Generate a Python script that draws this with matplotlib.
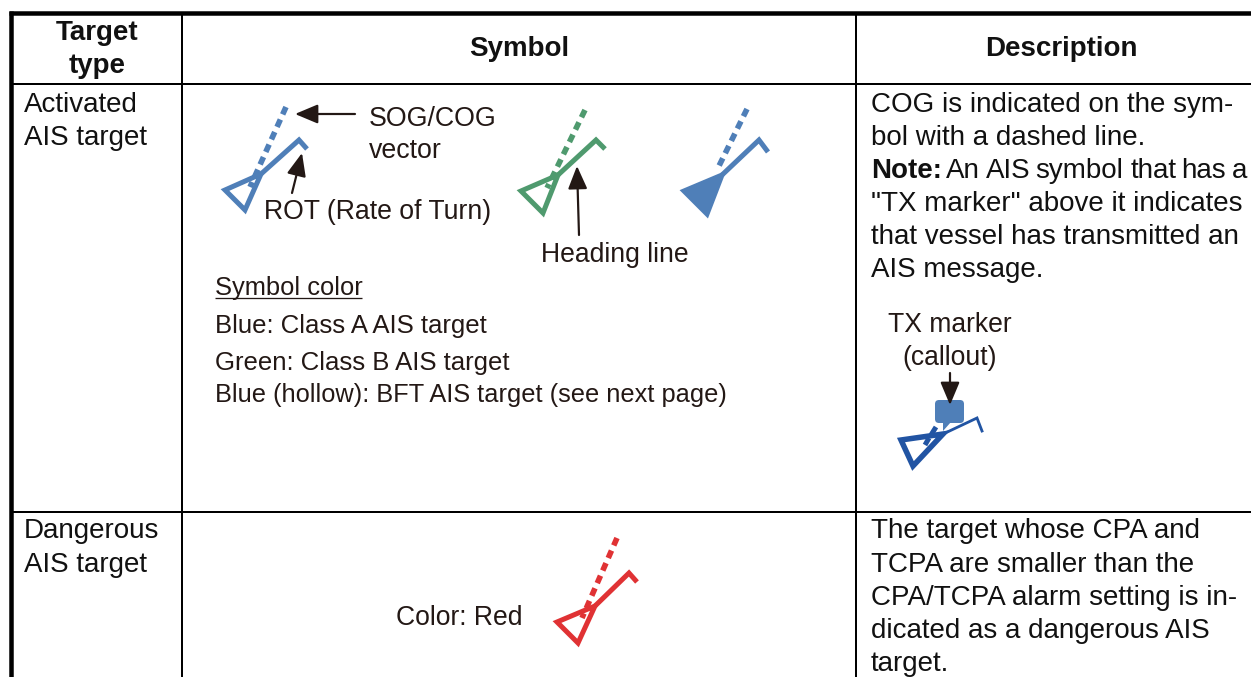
import matplotlib
matplotlib.use("Agg")
import matplotlib.pyplot as plt
from matplotlib.patches import Polygon, FancyBboxPatch

plt.rcParams['font.family'] = ['Liberation Sans', 'DejaVu Sans']

W, H = 1251, 677
BLUE, GREEN, RED, NAVY = '#4f7fb8', '#4f9a6e', '#e03234', '#2154a3'
DARK = '#231815'
INK = '#111111'
PX = 0.72
B = 27.8

# x, baseline y, text, font px, align, weight, colour
TEXTS = [
    (97, 40, 'Target', 27.8, 'center', 'bold', INK), (97, 73, 'type', 27.8, 'center', 'bold', INK),
    (519, 56, 'Symbol', 27.8, 'center', 'bold', INK), (1061, 56, 'Description', 27.8, 'center', 'bold', INK),
    (24, 112, 'Activated', B, 'left', 'normal', INK), (24, 145, 'AIS target', B, 'left', 'normal', INK),
    (24, 538, 'Dangerous', B, 'left', 'normal', INK), (24, 572, 'AIS target', B, 'left', 'normal', INK),
    (369, 126, 'SOG/COG', 26.7, 'left', 'normal', DARK), (369, 158, 'vector', 26.7, 'left', 'normal', DARK),
    (264, 219, 'ROT (Rate of Turn)', 26.6, 'left', 'normal', DARK),
    (541, 262, 'Heading line', 26.5, 'left', 'normal', DARK),
    (215, 295, 'Symbol color', 25.5, 'left', 'normal', DARK),
    (215, 333, 'Blue: Class A AIS target', 25.7, 'left', 'normal', DARK),
    (215, 370, 'Green: Class B AIS target', 25.7, 'left', 'normal', DARK),
    (215, 402, 'Blue (hollow): BFT AIS target (see next page)', 25.4, 'left', 'normal', DARK),
    (871, 112, 'COG is indicated on the sym-', B, 'left', 'normal', INK),
    (871, 145, 'bol with a dashed line.', B, 'left', 'normal', INK),
    (871, 178, 'Note:', B, 'left', 'bold', INK),
    (946, 178, 'An', B, 'left', 'normal', INK),
    (986, 178, 'AIS', B, 'left', 'normal', INK),
    (1035, 178, 'symbol', B, 'left', 'normal', INK),
    (1131, 178, 'that', B, 'left', 'normal', INK),
    (1181, 178, 'has', B, 'left', 'normal', INK),
    (1232, 178, 'a', B, 'left', 'normal', INK),
    (871, 211, '"TX marker" above it indicates', B, 'left', 'normal', INK),
    (871, 244, 'that vessel has transmitted an', B, 'left', 'normal', INK),
    (871, 277, 'AIS message.', B, 'left', 'normal', INK),
    (950, 332, 'TX marker', 26.5, 'center', 'normal', DARK),
    (950, 365, '(callout)', 26.5, 'center', 'normal', DARK),
    (396, 625, 'Color: Red', 26.5, 'left', 'normal', DARK),
    (871, 538, 'The target whose CPA and', B, 'left', 'normal', INK),
    (871, 572, 'TCPA are smaller than the', B, 'left', 'normal', INK),
    (871, 605, 'CPA/TCPA alarm setting is in-', B, 'left', 'normal', INK),
    (871, 638, 'dicated as a dangerous AIS', B, 'left', 'normal', INK),
    (871, 671, 'target.', B, 'left', 'normal', INK),
]

# colour, tip, bottom, junction, heading end, ROT end, dash start, dash end, filled
SYMBOLS = [
    (BLUE, (225, 190), (245, 210), (261, 174), (299, 140), (307, 149), (250, 187), (286, 107), False),
    (GREEN, (521, 191), (543, 213), (558, 175), (596, 140), (605, 149), (547, 188), (585, 110), False),
    (BLUE, (684, 191), (707, 214), (722, 175), (759, 140), (768, 152), (717, 170), (747, 109), True),
    (RED, (557, 622), (578, 643), (595, 606), (629, 573), (637, 582), (582, 618), (617, 538), False),
]
ARROWS = [((355, 114), (295, 114)), ((292, 193), (302, 153)), ((579, 235), (577, 166)), ((950, 373), (950, 405))]

fig = plt.figure(figsize=(W / 100, H / 100), dpi=100)
ax = fig.add_axes([0, 0, 1, 1])
ax.set_xlim(0, W)
ax.set_ylim(H, 0)
ax.axis('off')

# grid
ax.plot([9, W], [13, 13], color='k', lw=4.5 * PX, solid_capstyle='butt')
ax.plot([11, 11], [11, H], color='k', lw=4.5 * PX, solid_capstyle='butt')
for x in (182, 856):
    ax.plot([x, x], [13, H], color='k', lw=2 * PX, solid_capstyle='butt')
for y in (84, 512):
    ax.plot([11, W], [y, y], color='k', lw=2 * PX, solid_capstyle='butt')

for x, y, s, px, ha, w, c in TEXTS:
    ax.text(x, y, s, fontsize=px * PX, ha=ha, va='baseline', fontweight=w, color=c)
ax.plot([215, 362], [298, 298], color=DARK, lw=1.3 * PX, solid_capstyle='butt')

def symbol(col, tip, bot, jun, head, rot, d0, d1, filled, lw=5):
    ax.add_patch(Polygon([tip, bot, jun], closed=True, fill=filled, facecolor=col if filled else 'none',
                         edgecolor=col, lw=lw * PX, joinstyle='miter'))
    ax.plot([jun[0], head[0], rot[0]], [jun[1], head[1], rot[1]], color=col, lw=lw * PX,
            solid_joinstyle='miter', solid_capstyle='butt')
    ax.plot([d1[0], d0[0]], [d1[1], d0[1]], color=col, lw=5.6 * PX, dash_capstyle='butt',
            linestyle=(0, (1.45, 1.0)))

for s in SYMBOLS:
    symbol(*s)

# TX marked symbol
ax.add_patch(FancyBboxPatch((938, 403), 23, 17, boxstyle='round,pad=3,rounding_size=4',
                            fc=BLUE, ec='none', zorder=3))
ax.add_patch(Polygon([(943, 422), (951, 422), (943, 431)], closed=True, fc=BLUE, ec='none', zorder=3))
ax.add_patch(Polygon([(901, 440), (913, 466), (943, 434)], closed=True, fill=False, ec=NAVY,
                     lw=5.5 * PX, joinstyle='miter', zorder=4))
ax.plot([941, 977, 982], [435, 418, 431], color=NAVY, lw=2.8 * PX, solid_joinstyle='miter', zorder=4)
ax.plot([925, 929], [445, 438], color=NAVY, lw=5 * PX, solid_capstyle='butt', zorder=4)
ax.plot([931, 936], [435, 427], color=NAVY, lw=5 * PX, solid_capstyle='butt', zorder=4)

for a, b in ARROWS:
    ax.annotate('', xy=b, xytext=a, zorder=6,
                arrowprops=dict(arrowstyle='-|>,head_length=1.0,head_width=0.42', color=DARK,
                                lw=2.2 * PX, shrinkA=0, shrinkB=0, mutation_scale=14))

fig.savefig('out.png', dpi=100)
